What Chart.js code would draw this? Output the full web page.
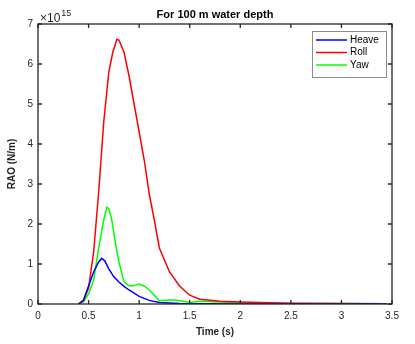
<!DOCTYPE html>
<html>
<head>
<meta charset="utf-8">
<script src="https://cdn.jsdelivr.net/npm/chart.js@4.4.1/dist/chart.umd.min.js"></script>
<style>
  body { margin: 0; background: #fff; }
  canvas { display: block; }
</style>
</head>
<body>
<canvas id="raoChart" width="415" height="344"></canvas>
<script>
// data (RAO values in units of 1e15 N/m)
const heaveT = [0.40, 0.45, 0.50, 0.55, 0.60, 0.63, 0.66, 0.70, 0.75, 0.80, 0.85, 0.90, 1.00, 1.10, 1.20, 1.40, 2.00, 3.45];
const heaveV = [0, 0.1, 0.45, 0.8, 1.05, 1.14, 1.08, 0.88, 0.68, 0.55, 0.44, 0.35, 0.19, 0.09, 0.04, 0.01, 0, 0];

const rollT = [0.40, 0.45, 0.50, 0.55, 0.60, 0.65, 0.70, 0.74, 0.78, 0.80, 0.85, 0.90, 0.95, 1.00, 1.05, 1.10, 1.15, 1.20, 1.30, 1.40, 1.50, 1.60, 1.80, 2.00, 2.50, 3.00, 3.45];
const rollV = [0, 0.08, 0.4, 1.3, 2.8, 4.55, 5.8, 6.3, 6.62, 6.6, 6.3, 5.7, 5.0, 4.3, 3.6, 2.75, 2.1, 1.4, 0.8, 0.45, 0.22, 0.12, 0.07, 0.05, 0.02, 0.01, 0.005];

const yawT = [0.40, 0.45, 0.50, 0.55, 0.60, 0.65, 0.68, 0.70, 0.73, 0.76, 0.80, 0.85, 0.90, 0.95, 1.00, 1.05, 1.10, 1.15, 1.20, 1.30, 1.35, 1.45, 1.50, 1.60, 1.80, 2.00, 2.50, 3.00, 3.45];
const yawV = [0, 0.05, 0.25, 0.6, 1.4, 2.1, 2.42, 2.38, 2.1, 1.6, 1.05, 0.56, 0.45, 0.46, 0.5, 0.45, 0.35, 0.22, 0.08, 0.1, 0.1, 0.06, 0.04, 0.07, 0.05, 0.03, 0.015, 0.01, 0.005];

const xTicks = [0, 0.5, 1, 1.5, 2, 2.5, 3, 3.5];
const yTicks = [0, 1, 2, 3, 4, 5, 6, 7];
const scaleExp = 15;

const ink = "#262626";
const font = "'Liberation Sans', Arial, sans-serif";

function pts(ts, vs) {
    return ts.map((t, i) => ({ x: t, y: vs[i] * Math.pow(10, scaleExp) }));
}

// box, inward ticks, titles and legend in MATLAB style
const matlabLook = {
    id: "matlabLook",
    afterDraw(chart) {
        const ctx = chart.ctx;
        const a = chart.chartArea;
        const xs = chart.scales.x, ys = chart.scales.y;
        ctx.save();
        ctx.strokeStyle = ink;
        ctx.lineWidth = 1.3;
        ctx.strokeRect(a.left, a.top, a.right - a.left, a.bottom - a.top);
        ctx.beginPath();
        xTicks.forEach(v => {
            const px = xs.getPixelForValue(v);
            ctx.moveTo(px, a.bottom); ctx.lineTo(px, a.bottom - 4);
            ctx.moveTo(px, a.top); ctx.lineTo(px, a.top + 4);
        });
        yTicks.forEach(v => {
            const py = ys.getPixelForValue(v * Math.pow(10, scaleExp));
            ctx.moveTo(a.left, py); ctx.lineTo(a.left + 4, py);
            ctx.moveTo(a.right, py); ctx.lineTo(a.right - 4, py);
        });
        ctx.stroke();

        ctx.fillStyle = "#000";
        ctx.textAlign = "center";
        ctx.textBaseline = "middle";
        ctx.font = "bold 11px " + font;
        ctx.fillText("For 100 m water depth", (a.left + a.right) / 2, 15);

        ctx.fillStyle = ink;
        ctx.font = "bold 10px " + font;
        ctx.fillText("Time (s)", (a.left + a.right) / 2, 332);
        ctx.save();
        ctx.translate(12, (a.top + a.bottom) / 2);
        ctx.rotate(-Math.PI / 2);
        ctx.fillText("RAO (N/m)", 0, 0);
        ctx.restore();

        ctx.textAlign = "left";
        ctx.font = "12px " + font;
        ctx.fillText("\u00d710", a.left + 2, 19);
        const w = ctx.measureText("\u00d710").width;
        ctx.font = "9px " + font;
        ctx.fillText(String(scaleExp), a.left + 2 + w + 1, 14);

        // legend
        const lx = 312, ly = 31, lw = 74, lh = 46;
        ctx.fillStyle = "#fff";
        ctx.fillRect(lx, ly, lw, lh);
        ctx.strokeStyle = "#8c8c8c";
        ctx.lineWidth = 1;
        ctx.strokeRect(lx + 0.5, ly + 0.5, lw, lh);
        ctx.font = "10px " + font;
        chart.data.datasets.forEach((ds, i) => {
            const y = ly + 9 + i * 12.5;
            ctx.strokeStyle = ds.borderColor;
            ctx.lineWidth = 1.5;
            ctx.beginPath();
            ctx.moveTo(lx + 4, y); ctx.lineTo(lx + 35, y);
            ctx.stroke();
            ctx.fillStyle = "#000";
            ctx.fillText(ds.label, lx + 38, y);
        });
        ctx.restore();
    }
};

new Chart(document.getElementById("raoChart"), {
    type: "line",
    data: {
        datasets: [
            { label: "Heave", data: pts(heaveT, heaveV), borderColor: "#0000ff" },
            { label: "Roll", data: pts(rollT, rollV), borderColor: "#ff0000" },
            { label: "Yaw", data: pts(yawT, yawV), borderColor: "#00ff00" }
        ]
    },
    options: {
        responsive: false,
        animation: false,
        layout: { padding: { left: 0, right: 23, top: 24, bottom: 0 } },
        elements: {
            line: { borderWidth: 1.5, tension: 0, fill: false },
            point: { radius: 0 }
        },
        plugins: { legend: { display: false }, title: { display: false }, tooltip: { enabled: false } },
        scales: {
            x: {
                type: "linear", min: 0, max: 3.5,
                afterFit(s) { s.height = 40; },
                afterBuildTicks(s) { s.ticks = xTicks.map(v => ({ value: v })); },
                grid: { display: false, tickLength: 0 },
                border: { display: false },
                ticks: { padding: 6, color: ink, font: { family: font, size: 10 }, maxRotation: 0,
                         callback: v => String(v) }
            },
            y: {
                min: 0, max: 7 * Math.pow(10, scaleExp),
                afterFit(s) { s.width = 38; },
                afterBuildTicks(s) { s.ticks = yTicks.map(v => ({ value: v * Math.pow(10, scaleExp) })); },
                grid: { display: false, tickLength: 0 },
                border: { display: false },
                ticks: { padding: 5, color: ink, font: { family: font, size: 10 },
                         callback: v => String(Math.round(v / Math.pow(10, scaleExp))) }
            }
        }
    },
    plugins: [matlabLook]
});
</script>
</body>
</html>
